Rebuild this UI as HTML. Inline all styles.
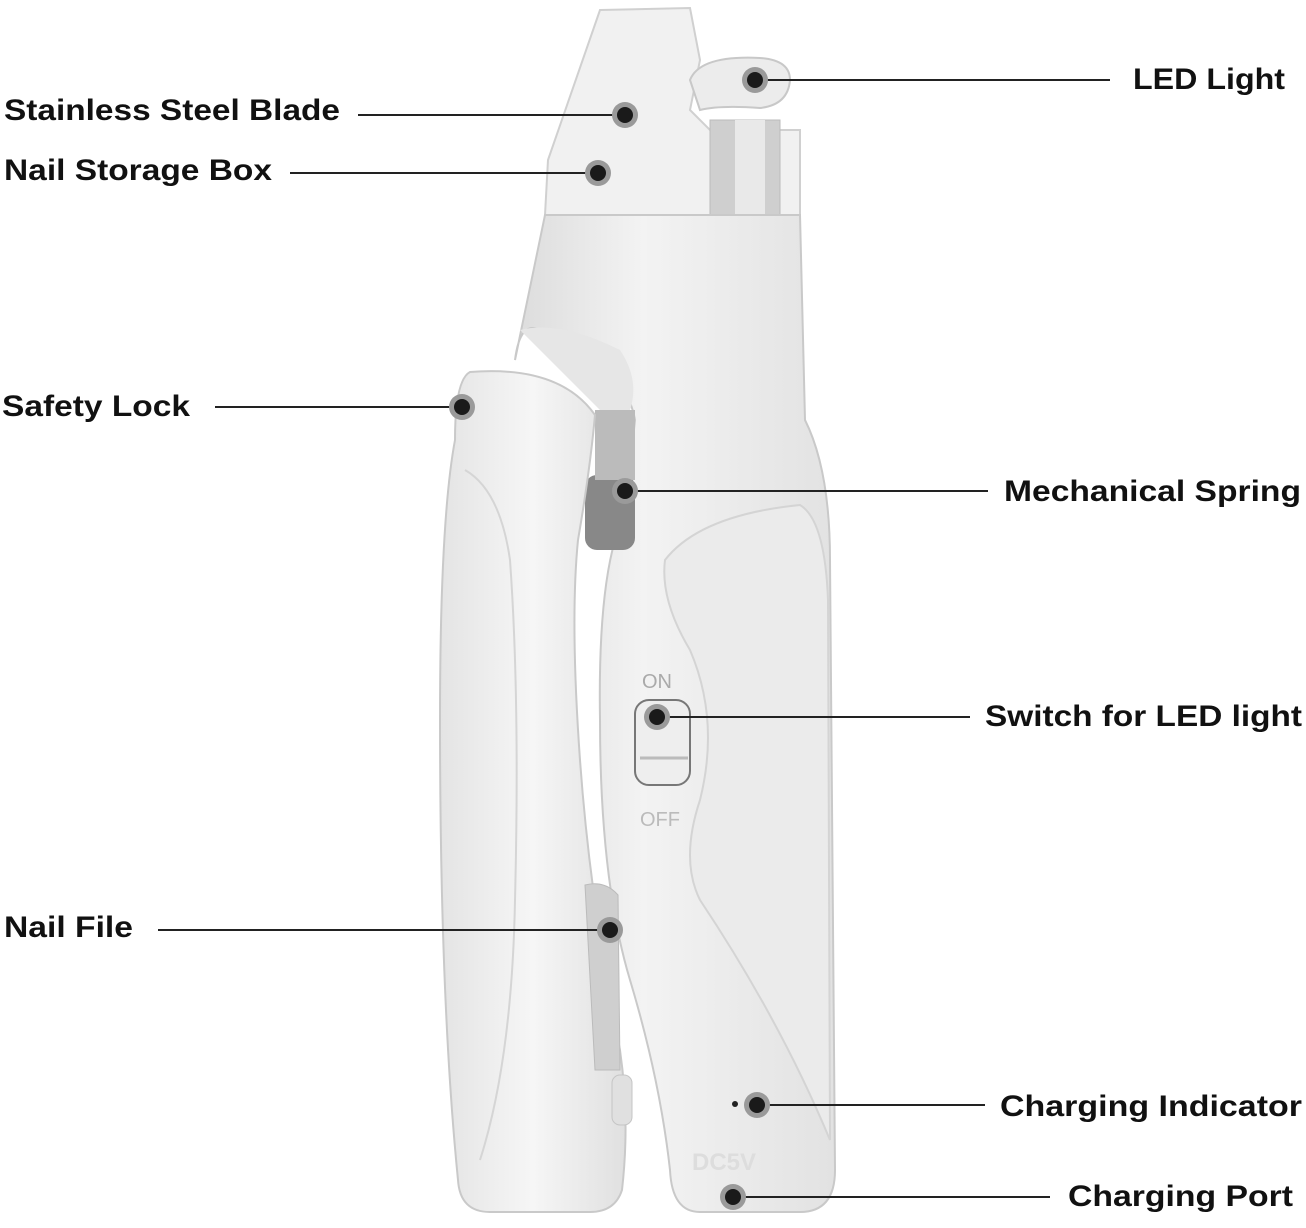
<!DOCTYPE html>
<html><head><meta charset="utf-8"><style>
html,body{margin:0;padding:0;background:#fff;}
svg{display:block}
text{font-family:"Liberation Sans","DejaVu Sans",sans-serif;font-weight:bold;fill:#111;font-size:30px}
</style></head><body>
<svg width="1306" height="1228" viewBox="0 0 1306 1228" xmlns="http://www.w3.org/2000/svg">
<defs>
<linearGradient id="g1" x1="0" x2="1"><stop offset="0" stop-color="#e4e4e4"/><stop offset="0.5" stop-color="#f6f6f6"/><stop offset="1" stop-color="#e0e0e0"/></linearGradient>
<linearGradient id="g2" x1="0" x2="1"><stop offset="0" stop-color="#dcdcdc"/><stop offset="0.4" stop-color="#f3f3f3"/><stop offset="1" stop-color="#e2e2e2"/></linearGradient>
</defs>
<!-- clear head -->
<path d="M600,10 L690,8 L700,60 L690,110 L710,130 L800,130 L800,215 L545,215 L548,160 Z" fill="#f1f1f1" stroke="#d0d0d0" stroke-width="2"/>
<rect x="710" y="120" width="70" height="95" fill="#cfcfcf" stroke="#bbb"/>
<rect x="735" y="120" width="30" height="95" fill="#e9e9e9"/>
<path d="M690,80 Q700,55 760,58 Q790,60 790,80 Q788,105 760,108 Q720,105 700,110 Z" fill="#ececec" stroke="#c8c8c8" stroke-width="2"/>
<!-- upper body + right handle -->
<path d="M545,215 L800,215 L805,420 Q830,470 830,560 L835,1170 Q835,1212 800,1212 L700,1212 Q672,1212 670,1170 Q660,1080 630,980 Q600,880 600,720 Q598,600 615,540 Q630,470 635,420 Q630,390 600,360 Q560,340 540,330 Q520,320 515,360 Z" fill="url(#g2)" stroke="#c9c9c9" stroke-width="2"/>
<path d="M520,330 Q560,320 620,350 Q640,380 630,410 L600,410 Z" fill="#e6e6e6"/>
<!-- grip panel right -->
<path d="M665,560 Q700,515 800,505 Q825,520 828,600 L830,1140 Q780,1020 700,900 Q680,860 700,800 Q720,720 690,650 Q660,600 665,560 Z" fill="#ebebeb" stroke="#d4d4d4" stroke-width="2"/>
<!-- spring -->
<rect x="585" y="475" width="50" height="75" rx="12" fill="#888"/>
<rect x="595" y="410" width="40" height="70" fill="#bbb"/>
<!-- left handle -->
<path d="M470,372 Q560,365 595,415 Q590,470 578,540 Q570,620 580,760 Q590,900 620,1050 Q630,1120 622,1190 Q615,1212 590,1212 L490,1212 Q460,1212 458,1180 Q440,1000 440,720 Q440,520 455,440 Q455,380 470,372 Z" fill="url(#g1)" stroke="#c9c9c9" stroke-width="2"/>
<path d="M465,470 Q500,490 510,560 Q520,700 515,900 Q512,1060 480,1160" fill="none" stroke="#d5d5d5" stroke-width="2"/>
<!-- nail file -->
<path d="M585,885 Q605,880 618,895 L620,1070 L595,1070 Z" fill="#cfcfcf" stroke="#bbb"/>
<rect x="612" y="1075" width="20" height="50" rx="8" fill="#e0e0e0" stroke="#c5c5c5"/>
<!-- switch -->
<text x="642" y="688" style="font-size:20px;font-weight:normal;fill:#aaa">ON</text>
<rect x="635" y="700" width="55" height="85" rx="14" fill="#eee" stroke="#777" stroke-width="2"/>
<line x1="640" y1="758" x2="688" y2="758" stroke="#bbb" stroke-width="3"/>
<text x="640" y="826" style="font-size:20px;font-weight:normal;fill:#bbb">OFF</text>
<text x="692" y="1170" style="font-size:24px;fill:#ddd">DC5V</text>
<circle cx="735" cy="1104" r="3" fill="#222"/>
<!-- leader lines -->
<g stroke="#222" stroke-width="2">
<line x1="358" y1="115" x2="625" y2="115"/>
<line x1="290" y1="173" x2="598" y2="173"/>
<line x1="755" y1="80" x2="1110" y2="80"/>
<line x1="215" y1="407" x2="462" y2="407"/>
<line x1="625" y1="491" x2="988" y2="491"/>
<line x1="657" y1="717" x2="970" y2="717"/>
<line x1="158" y1="930" x2="610" y2="930"/>
<line x1="757" y1="1105" x2="985" y2="1105"/>
<line x1="733" y1="1197" x2="1050" y2="1197"/>
</g>
<g>
<g fill="#9a9a9a">
<circle cx="625" cy="115" r="13"/><circle cx="598" cy="173" r="13"/><circle cx="755" cy="80" r="13"/>
<circle cx="462" cy="407" r="13"/><circle cx="625" cy="491" r="13"/><circle cx="657" cy="717" r="13"/>
<circle cx="610" cy="930" r="13"/><circle cx="757" cy="1105" r="13"/><circle cx="733" cy="1197" r="13"/>
</g>
<g fill="#1a1a1a">
<circle cx="625" cy="115" r="8"/><circle cx="598" cy="173" r="8"/><circle cx="755" cy="80" r="8"/>
<circle cx="462" cy="407" r="8"/><circle cx="625" cy="491" r="8"/><circle cx="657" cy="717" r="8"/>
<circle cx="610" cy="930" r="8"/><circle cx="757" cy="1105" r="8"/><circle cx="733" cy="1197" r="8"/>
</g>
</g>
<!-- labels -->
<text x="4" y="120" textLength="336" lengthAdjust="spacingAndGlyphs">Stainless Steel Blade</text>
<text x="4" y="180" textLength="268" lengthAdjust="spacingAndGlyphs">Nail Storage Box</text>
<text x="1133" y="89" textLength="152" lengthAdjust="spacingAndGlyphs">LED Light</text>
<text x="2" y="416" textLength="188" lengthAdjust="spacingAndGlyphs">Safety Lock</text>
<text x="1004" y="501" textLength="297" lengthAdjust="spacingAndGlyphs">Mechanical Spring</text>
<text x="985" y="726" textLength="317" lengthAdjust="spacingAndGlyphs">Switch for LED light</text>
<text x="4" y="937" textLength="129" lengthAdjust="spacingAndGlyphs">Nail File</text>
<text x="1000" y="1116" textLength="302" lengthAdjust="spacingAndGlyphs">Charging Indicator</text>
<text x="1068" y="1206" textLength="225" lengthAdjust="spacingAndGlyphs">Charging Port</text>
</svg>
</body></html>
